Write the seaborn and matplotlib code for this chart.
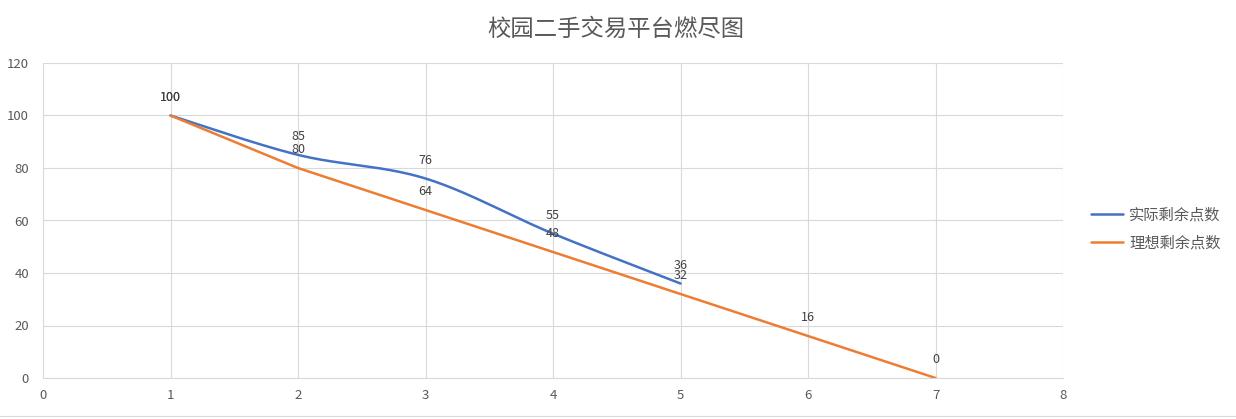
import numpy as np
import pandas as pd
import matplotlib
matplotlib.use("Agg")
import matplotlib.pyplot as plt
import seaborn as sns

# data
actual_x = [1, 2, 3, 4, 5]
actual_y = [100, 85, 76, 55, 36]
ideal_x = [1, 2, 3, 4, 5, 6, 7]
ideal_y = [100, 80, 64, 48, 32, 16, 0]
series_names = ["实际剩余点数", "理想剩余点数"]
title = "校园二手交易平台燃尽图"

sns.set_theme(style="white")
plt.rcParams['font.family'] = ['Noto Sans CJK SC', 'DejaVu Sans']

BLUE = "#4472C4"
ORANGE = "#ED7D31"
TXT = "#595959"
GRID = "#D9D9D9"

fig = plt.figure(figsize=(12.36, 4.19), dpi=100)
ax = fig.add_axes([43/1236, 1-378/419, (1063-43)/1236, (378-63)/419])


def smooth(xs, ys, n=40):
    """Excel-like smoothed line: cubic Bezier through points (Catmull-Rom controls)."""
    P = np.column_stack([xs, ys]).astype(float)
    out = []
    for i in range(len(P) - 1):
        p0 = P[i - 1] if i > 0 else P[i]
        p1 = P[i]
        p2 = P[i + 1]
        p3 = P[i + 2] if i + 2 < len(P) else P[i + 1]
        c1 = p1 + (p2 - p0) / 6.0
        c2 = p2 - (p3 - p1) / 6.0
        t = np.linspace(0, 1, n)[:, None]
        seg = (1-t)**3*p1 + 3*(1-t)**2*t*c1 + 3*(1-t)*t**2*c2 + t**3*p2
        out.append(seg if i == 0 else seg[1:])
    return np.vstack(out)

sm = smooth(actual_x, actual_y)
df_a = pd.DataFrame({"x": sm[:, 0], "y": sm[:, 1]})
df_i = pd.DataFrame({"x": ideal_x, "y": ideal_y})

sns.lineplot(data=df_a, x="x", y="y", ax=ax, color=BLUE, lw=1.8, sort=False,
             label=series_names[0])
sns.lineplot(data=df_i, x="x", y="y", ax=ax, color=ORANGE, lw=1.8, sort=False,
             label=series_names[1])

for x, y in zip(actual_x, actual_y):
    ax.annotate(str(y), (x, y), xytext=(0, 13), textcoords="offset points",
                ha="center", va="center", fontsize=9, color="#404040")
for x, y in zip(ideal_x, ideal_y):
    ax.annotate(str(y), (x, y), xytext=(0, 13), textcoords="offset points",
                ha="center", va="center", fontsize=9, color="#404040")

ax.set_xlim(0, 8)
ax.set_ylim(0, 120)
ax.set_xticks(range(0, 9))
ax.set_yticks(range(0, 121, 20))
ax.grid(True, color=GRID, lw=0.8)
ax.set_axisbelow(True)
for s in ["top", "right", "left"]:
    ax.spines[s].set_visible(False)
ax.spines["bottom"].set_color(GRID)
ax.spines["bottom"].set_linewidth(0.8)
ax.tick_params(axis="both", length=0, labelsize=9.5, labelcolor=TXT)
ax.tick_params(axis="y", pad=10)
ax.tick_params(axis="x", pad=8)
ax.set_xlabel("")
ax.set_ylabel("")

fig.suptitle(title, x=616/1236, y=1-29/419, va="center",
             fontsize=16.8, color=TXT)

leg = ax.legend(loc="center left", bbox_to_anchor=(1077/1236, 1-229/419),
                bbox_transform=fig.transFigure, frameon=False, fontsize=11,
                handlelength=2.1, labelspacing=0.75, handletextpad=0.4)
for t in leg.get_texts():
    t.set_color(TXT)

fig.add_artist(plt.Line2D([0, 1], [1-416/419]*2, color=GRID, lw=0.8,
                          transform=fig.transFigure))

fig.savefig("out.png", dpi=100)
